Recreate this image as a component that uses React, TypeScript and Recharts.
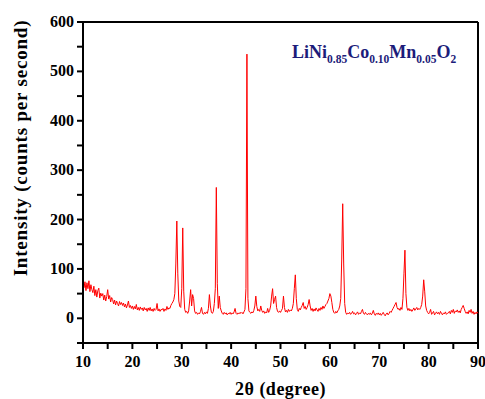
import React from 'react';
import { LineChart, Line, XAxis, YAxis, ReferenceLine, Label } from 'recharts';

if (typeof document !== 'undefined') {
  document.body.style.margin = '0';
}

// XRD scan, 10-90 deg 2theta, 0.2 deg step
const startAngle = 10;
const stepAngle = 0.2;

const intensity: number[] = [
  // 10.0 - 11.8
  84, 62, 74, 56, 72, 60, 76, 54, 68, 58,
  // 12.0 - 13.8
  52, 65, 46, 58, 43, 56, 61, 41, 51, 45,
  // 14.0 - 15.8
  50, 37, 47, 35, 44, 58, 39, 46, 33, 42,
  // 16.0 - 17.8
  38, 29, 37, 27, 35, 30, 25, 34, 28, 32,
  // 18.0 - 19.8
  26, 31, 23, 29, 21, 27, 35, 22, 26, 20,
  // 20.0 - 21.8
  25, 18, 24, 19, 28, 17, 22, 16, 23, 18,
  // 22.0 - 23.8
  21, 15, 22, 17, 20, 14, 21, 16, 22, 15,
  // 24.0 - 25.8
  19, 14, 20, 16, 18, 30, 15, 19, 14, 18,
  // 26.0 - 27.8
  17, 20, 14, 19, 16, 24, 18, 21, 20, 26,
  // 28.0 - 29.8
  30, 33, 38, 50, 110, 197, 90, 35, 24, 22,
  // 30.0 - 31.8
  60, 183, 55, 18, 12, 14, 10, 15, 35, 58,
  // 32.0 - 33.8
  25, 48, 40, 15, 10, 12, 8, 11, 9, 14,
  // 34.0 - 35.8
  22, 10, 8, 12, 9, 13, 10, 20, 48, 25,
  // 36.0 - 37.8
  12, 10, 14, 30, 60, 265, 70, 20, 45, 22,
  // 38.0 - 39.8
  15, 10, 8, 12, 9, 11, 7, 10, 9, 12,
  // 40.0 - 41.8
  8, 11, 9, 13, 20, 10, 8, 11, 9, 12,
  // 42.0 - 43.8
  10, 12, 9, 13, 18, 60, 535, 40, 15, 12,
  // 44.0 - 45.8
  10, 13, 11, 16, 25, 45, 24, 15, 18, 14,
  // 46.0 - 47.8
  25, 16, 12, 15, 10, 13, 11, 20, 12, 16,
  // 48.0 - 49.8
  25, 45, 60, 30, 38, 45, 22, 14, 12, 15,
  // 50.0 - 51.8
  12, 16, 20, 45, 22, 13, 16, 12, 18, 14,
  // 52.0 - 53.8
  17, 15, 20, 30, 60, 88, 40, 18, 14, 20,
  // 54.0 - 55.8
  17, 22, 26, 32, 20, 24, 18, 22, 28, 38,
  // 56.0 - 57.8
  25, 16, 20, 14, 19, 15, 21, 17, 14, 20,
  // 58.0 - 59.8
  16, 22, 18, 25, 20, 24, 28, 30, 35, 40,
  // 60.0 - 61.8
  50, 45, 32, 18, 12, 10, 14, 11, 15, 18,
  // 62.0 - 63.8
  25, 40, 120, 232, 110, 30, 12, 8, 11, 9,
  // 64.0 - 65.8
  12, 8, 10, 14, 9, 11, 7, 10, 13, 8,
  // 66.0 - 67.8
  11, 9, 14, 18, 10, 8, 12, 9, 7, 10,
  // 68.0 - 69.8
  8, 11, 7, 10, 16, 9, 6, 10, 8, 11,
  // 70.0 - 71.8
  7, 10, 6, 9, 12, 8, 5, 9, 11, 7,
  // 72.0 - 73.8
  10, 14, 12, 16, 20, 24, 28, 32, 22, 18,
  // 74.0 - 75.8
  20, 16, 22, 18, 40, 90, 138, 50, 22, 16,
  // 76.0 - 77.8
  20, 15, 18, 14, 17, 21, 16, 19, 22, 17,
  // 78.0 - 79.8
  20, 18, 22, 28, 45, 78, 55, 25, 16, 12,
  // 80.0 - 81.8
  9, 12, 18, 8, 11, 14, 7, 10, 13, 9,
  // 82.0 - 83.8
  12, 8, 14, 10, 7, 11, 9, 13, 8, 10,
  // 84.0 - 85.8
  11, 14, 9, 16, 12, 18, 10, 15, 13, 17,
  // 86.0 - 87.8
  12, 15, 11, 18, 22, 26, 20, 14, 10, 13,
  // 88.0 - 89.8
  9, 16, 12, 18, 10, 14, 8, 12, 9, 13,
  // 90.0
  10,
];

const xTicks = [10, 15, 20, 25, 30, 35, 40, 45, 50, 55, 60, 65, 70, 75, 80, 85, 90];
const yTicks = [-50, 0, 50, 100, 150, 200, 250, 300, 350, 400, 450, 500, 550, 600];

const data = intensity.map((v, i) => ({
  angle: +(startAngle + i * stepAngle).toFixed(1),
  counts: v,
}));

const FONT = '"Liberation Serif", "Times New Roman", serif';
const TICK = 6;

const renderXTick = (props: any) => {
  const { x, y, payload } = props;
  if (payload.value % 10 !== 0) return <g />;
  return (
    <text x={x} y={y + 16} textAnchor="middle" fontFamily={FONT} fontWeight={700} fontSize={16} fill="#000">
      {payload.value}
    </text>
  );
};

const renderYTick = (props: any) => {
  const { x, y, payload } = props;
  if (payload.value % 100 !== 0) return <g />;
  return (
    <text x={x - 1} y={y + 5} textAnchor="end" fontFamily={FONT} fontWeight={700} fontSize={16} fill="#000">
      {payload.value}
    </text>
  );
};

const YTitle = (props: any) => {
  const vb = props.viewBox || {};
  const cx = 20;
  const cy = (vb.y ?? 22) + 126;
  return (
    <text
      x={cx}
      y={cy}
      transform={`rotate(-90 ${cx} ${cy})`}
      textAnchor="middle"
      dominantBaseline="central"
      fontFamily={FONT}
      fontWeight={700}
      fontSize={19}
      letterSpacing={0.8}
      fill="#000"
    >
      Intensity (counts per second)
    </text>
  );
};

const XTitle = (props: any) => {
  const vb = props.viewBox || {};
  const cx = (vb.x ?? 83) + (vb.width ?? 395) / 2;
  return (
    <text
      x={cx}
      y={395}
      textAnchor="middle"
      fontFamily={FONT}
      fontWeight={700}
      fontSize={18}
      letterSpacing={0.5}
      fill="#000"
    >
      2θ (degree)
    </text>
  );
};

export default function App() {
  return (
    <div style={{ position: 'relative', width: 485, height: 399 }}>
      <LineChart width={485} height={399} data={data} margin={{ top: 22, right: 7, left: 0, bottom: 0 }}>
        <XAxis
          dataKey="angle"
          type="number"
          domain={[10, 90]}
          ticks={xTicks}
          interval={0}
          tickLine={{ stroke: '#000', strokeWidth: 2 }}
          tickSize={TICK}
          tick={renderXTick}
          axisLine={{ stroke: '#000', strokeWidth: 2 }}
          height={56}
        >
          <Label content={<XTitle />} />
        </XAxis>
        <YAxis
          type="number"
          domain={[-50, 600]}
          ticks={yTicks}
          interval={0}
          tickLine={{ stroke: '#000', strokeWidth: 2 }}
          tickSize={TICK}
          tick={renderYTick}
          axisLine={{ stroke: '#000', strokeWidth: 2 }}
          width={83}
        >
          <Label content={<YTitle />} />
        </YAxis>
        <ReferenceLine y={600} stroke="#000" strokeWidth={2} />
        <ReferenceLine x={90} stroke="#000" strokeWidth={2} />
        <Line
          dataKey="counts"
          type="linear"
          stroke="#ff0000"
          strokeWidth={1}
          dot={false}
          isAnimationActive={false}
        />
      </LineChart>
      <div
        style={{
          position: 'absolute',
          left: 292,
          top: 43,
          whiteSpace: 'nowrap',
          fontFamily: FONT,
          fontWeight: 'bold',
          fontSize: 18,
          color: '#1c1c7a',
          lineHeight: '18px',
        }}
      >
        LiNi<sub style={{ fontSize: 11.5 }}>0.85</sub>Co<sub style={{ fontSize: 11.5 }}>0.10</sub>Mn
        <sub style={{ fontSize: 11.5 }}>0.05</sub>O<sub style={{ fontSize: 11.5 }}>2</sub>
      </div>
    </div>
  );
}
